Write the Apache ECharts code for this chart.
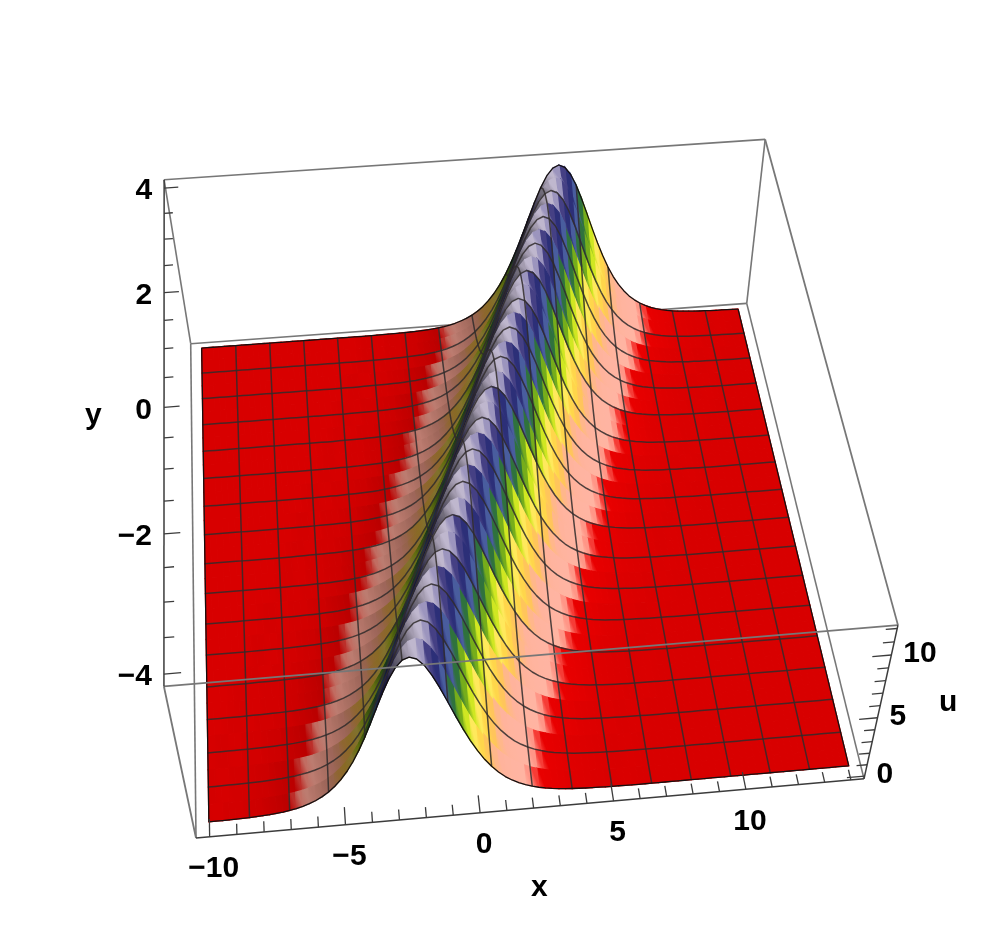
<!DOCTYPE html>
<html>
<head>
<meta charset="utf-8">
<title>soliton surface</title>
<script src="https://cdn.jsdelivr.net/npm/echarts@6/dist/echarts.min.js"></script>
<style>
html, body { margin: 0; padding: 0; background: #fff; }
#chart { width: 997px; height: 935px; filter: blur(0.5px); }
</style>
</head>
<body>
<div id="chart"></div>
<script>
var profileU = [12, 11.81, 11.28, 10.46, 9.44, 8.31, 7.16, 6.05, 5.04, 4.14, 3.36, 2.71, 2.17, 1.72, 1.37, 1.08, 0.85,
    0.67, 0.52, 0.41, 0.32, 0.25, 0.19, 0.15, 0.12, 0.09, 0.07, 0.06, 0.04, 0.03, 0.03, 0.02, 0.01];
// crest position x for each row y = -4, -3.75, ... 4
var ridgeX = [-2.25, -2, -1.75, -1.5, -1.25, -1, -0.75, -0.5, -0.25, 0, 0.25, 0.5, 0.75, 1, 1.25, 1.5,
    1.75, 2, 2.25, 2.5, 2.75, 3, 3.25, 3.5, 3.75, 4, 4.25, 4.5, 4.75, 5, 5.25, 5.5, 5.75];
// the colours in the picture step along the crest in coarse blocks: row each row takes its colour from
var colorRow = [0, 1, 1, 3, 3, 5, 6, 6, 8, 9, 9, 11, 11, 13, 14, 14, 16, 17, 17, 19, 19, 21, 22, 22, 24, 25, 25, 27, 27, 29, 30, 30, 32];

var xTicks = [-10, -5, 0, 5, 10];
var yTicks = [-4, -2, 0, 2, 4];
var uTicks = [0, 5, 10];
var xMinorTicks = [-9, -8, -7, -6, -4, -3, -2, -1, 1, 2, 3, 4, 6, 7, 8, 9, 11, 12, 13, 14];
var yMinorTicks = [-3.5, -3, -2.5, -1.5, -1, -0.5, 0.5, 1, 1.5, 2.5, 3, 3.5];
var uMinorTicks = [1, 2, 3, 4, 6, 7, 8, 9, 11, 12];

// colour by height
var colorU = [0, 0.42, 0.72, 2.0, 3.0, 4.1, 5.0, 5.9, 6.8, 7.5, 8.2, 9.6, 10.8, 11.6, 12];
var colorHex = ['#d80000', '#dc0000', '#ffa898', '#ffa58f', '#ffbd3c', '#f8d858', '#c4d820', '#7aa818',
    '#2e7a20', '#2a5a50', '#465a96', '#25256a', '#4a4480', '#c0b8d0', '#a49cb0'];

// mesh lines: every 2nd row and every 6th column of the grid
var meshRows = [2, 4, 6, 8, 10, 12, 14, 16, 18, 20, 22, 24, 26, 28, 30];
var meshCols = [6, 12, 18, 24, 30, 36, 42, 48, 54, 60, 66, 72, 78, 84, 90];

var X_MIN = -10, X_MAX = 14, Y_MIN = -4, Y_MAX = 4, U_MAX = 12;
var STEP = 0.25;
var COLS = (X_MAX - X_MIN) / STEP, ROWS = (Y_MAX - Y_MIN) / STEP;
var PAD = 0.02;

// camera: box coords (0..1) to page, homogeneous
var camX = [196, 687, 34, -47];
var camY = [838, -42, -423.5, -214];
var camW = [1, 0.022, 0.206, -0.091];

function boxA(x) { return PAD + (1 - 2 * PAD) * (x - X_MIN) / (X_MAX - X_MIN); }
function boxB(y) { return PAD + (1 - 2 * PAD) * (y - Y_MIN) / (Y_MAX - Y_MIN); }
function boxC(u) { return PAD + (1 - 2 * PAD) * u / U_MAX; }

function depth(a, b, c) { return camW[0] + camW[1] * a + camW[2] * b + camW[3] * c; }
function project(a, b, c) {
    var w = depth(a, b, c);
    return [(camX[0] + camX[1] * a + camX[2] * b + camX[3] * c) / w,
            (camY[0] + camY[1] * a + camY[2] * b + camY[3] * c) / w];
}

function colX(c) { return X_MIN + c * STEP; }
function rowY(r) { return Y_MIN + r * STEP; }

function profileAt(c, crest) {
    var k = Math.round(Math.abs(colX(c) - crest) / STEP);
    return k < profileU.length ? profileU[k] : 0;
}
function heightAt(c, r) { return profileAt(c, ridgeX[r]); }

function nodePage(api, c, r) {
    return api.coord(project(boxA(colX(c)), boxB(rowY(r)), boxC(heightAt(c, r))));
}

function hexRgb(h) {
    return [parseInt(h.substr(1, 2), 16), parseInt(h.substr(3, 2), 16), parseInt(h.substr(5, 2), 16)];
}

function nodeColor(c, r) {
    var crest = ridgeX[colorRow[r]];
    var u = profileAt(c, crest);
    var i = 0;
    while (i < colorU.length - 2 && u > colorU[i + 1]) i++;
    var t = Math.min(1, Math.max(0, (u - colorU[i]) / (colorU[i + 1] - colorU[i])));
    var c0 = hexRgb(colorHex[i]), c1 = hexRgb(colorHex[i + 1]);
    // left side of the hill is in shade, right side catches the light
    var slope = (profileAt(c + 1, crest) - profileAt(c - 1, crest)) / (2 * STEP);
    var m = slope > 0 ? 1 - 0.5 * (1 - Math.exp(-slope * 0.9)) : 1 + 0.08 * (1 - Math.exp(slope * 3));
    var out = [];
    for (var k = 0; k < 3; k++) {
        out.push(Math.min(255, Math.round((c0[k] + (c1[k] - c0[k]) * t) * m)));
    }
    return 'rgb(' + out.join(',') + ')';
}

// back to front
var quads = [];
for (var r = 0; r < ROWS; r++) {
    for (var c = 0; c < COLS; c++) {
        var uMid = (heightAt(c, r) + heightAt(c + 1, r) + heightAt(c, r + 1) + heightAt(c + 1, r + 1)) / 4;
        quads.push([c, r, depth(boxA(colX(c + 0.5)), boxB(rowY(r + 0.5)), boxC(uMid))]);
    }
}
quads.sort(function (p, q) { return q[2] - p[2]; });

function renderQuad(params, api) {
    var c = api.value(0), r = api.value(1);
    var p00 = nodePage(api, c, r), p10 = nodePage(api, c + 1, r);
    var p11 = nodePage(api, c + 1, r + 1), p01 = nodePage(api, c, r + 1);
    var col0 = nodeColor(c, r), col1 = nodeColor(c + 1, r);
    // gradient across the quad, with its colour lines leaning so the steps look like teeth
    var ex = p10[0] - p00[0], ey = p10[1] - p00[1];
    var ix = p01[0] - p00[0] - 5, iy = p01[1] - p00[1];
    var nx = -iy, ny = ix;
    var d = nx * ex + ny * ey;
    var gx = nx / d, gy = ny / d;
    var g2 = gx * gx + gy * gy;
    var grad = new echarts.graphic.LinearGradient(p00[0], p00[1], p00[0] + gx / g2, p00[1] + gy / g2,
        [{ offset: 0, color: col0 }, { offset: 1, color: col1 }], true);
    return {
        type: 'polygon',
        shape: { points: [p00, p10, p11, p01] },
        style: { fill: grad, stroke: grad, lineWidth: 1.3 }
    };
}

// mesh and rim polylines: [0, row] runs along x, [1, col] runs along y
var meshLines = [];
meshRows.forEach(function (v) { meshLines.push([0, v]); });
meshCols.forEach(function (v) { meshLines.push([1, v]); });
var rimLines = [[0, 0], [0, ROWS], [1, 0], [1, COLS]];

function surfaceLine(color, width) {
    return function (params, api) {
        var pts = [], i;
        if (api.value(0) === 0) {
            for (i = 0; i <= COLS; i++) pts.push(nodePage(api, i, api.value(1)));
        } else {
            for (i = 0; i <= ROWS; i++) pts.push(nodePage(api, api.value(1), i));
        }
        return {
            type: 'polyline',
            shape: { points: pts },
            style: { stroke: color, lineWidth: width, fill: null, lineJoin: 'round' }
        };
    };
}

// box edges behind the surface, [a0, b0, c0, a1, b1, c1]
var backEdges = [
    [0, 1, 0, 1, 1, 0], [0, 0, 0, 0, 1, 0], [1, 0, 0, 1, 1, 0],
    [0, 1, 0, 0, 1, 1], [1, 1, 0, 1, 1, 1], [0, 1, 1, 1, 1, 1]
];
var frontEdges = [
    [0, 0, 1, 1, 0, 1], [1, 0, 1, 1, 1, 1], [0, 0, 0, 0, 0, 1]
];
var axisEdges = [
    [0, 0, 0, 1, 0, 0], [0, 0, 1, 0, 1, 1], [1, 0, 0, 1, 0, 1]
];
var tickSegs = [];
function addXTick(x, len) { tickSegs.push([boxA(x), 0, 0, boxA(x), len, 0]); }
function addYTick(y, len) { tickSegs.push([0, boxB(y), 1, len, boxB(y), 1]); }
function addUTick(u, len) { tickSegs.push([1, 0, boxC(u), 1 - len, 0, boxC(u)]); }
xTicks.forEach(function (v) { addXTick(v, 0.03); });
xMinorTicks.forEach(function (v) { addXTick(v, 0.018); });
yTicks.forEach(function (v) { addYTick(v, 0.023); });
yMinorTicks.forEach(function (v) { addYTick(v, 0.014); });
uTicks.forEach(function (v) { addUTick(v, 0.027); });
uMinorTicks.forEach(function (v) { addUTick(v, 0.016); });

function segRenderer(color, width) {
    return function (params, api) {
        var a = api.coord(project(api.value(0), api.value(1), api.value(2)));
        var b = api.coord(project(api.value(3), api.value(4), api.value(5)));
        return {
            type: 'line',
            shape: { x1: a[0], y1: a[1], x2: b[0], y2: b[1] },
            style: { stroke: color, lineWidth: width }
        };
    };
}

function customSeries(data, render, z) {
    return {
        type: 'custom', coordinateSystem: 'cartesian2d', silent: true, clip: false, z: z,
        progressive: 0, encode: { x: 0, y: 1 }, data: data, renderItem: render
    };
}

function minusText(v) { return v < 0 ? '\u2212' + (-v) : String(v); }

var LABEL_FONT = 'bold 30px "Liberation Sans", Arial, sans-serif';

function labelSeries(values, toBox, dx, dy, align) {
    return customSeries(values.map(function (v) { return [v]; }), function (params, api) {
        var v = api.value(0);
        var b = toBox(v);
        var p = api.coord(project(b[0], b[1], b[2]));
        return {
            type: 'text',
            style: {
                text: minusText(v), x: p[0] + dx, y: p[1] + dy,
                font: LABEL_FONT, fill: '#000', align: align, verticalAlign: 'middle'
            }
        };
    }, 6);
}

function titleText(text, left, top) {
    return {
        type: 'text', left: left, top: top, silent: true, z: 10,
        style: { text: text, font: LABEL_FONT, fill: '#000' }
    };
}

var myChart = echarts.init(document.getElementById('chart'), null, { renderer: 'canvas' });
myChart.setOption({
    backgroundColor: '#fff',
    animation: false,
    grid: { left: 0, right: 0, top: 0, bottom: 0 },
    xAxis: { type: 'value', min: 0, max: 997, show: false },
    yAxis: { type: 'value', min: 0, max: 935, inverse: true, show: false },
    graphic: [
        titleText('x', 531, 873),
        titleText('y', 85, 401),
        titleText('u', 939, 688)
    ],
    series: [
        customSeries(backEdges, segRenderer('#777', 1.6), 1),
        customSeries(quads, renderQuad, 2),
        customSeries(meshLines, surfaceLine('rgba(48,44,44,0.85)', 1.5), 3),
        customSeries(rimLines, surfaceLine('#141010', 1.3), 3),
        customSeries(frontEdges, segRenderer('#777', 1.8), 4),
        customSeries(axisEdges, segRenderer('#3c3c3c', 1.5), 5),
        customSeries(tickSegs, segRenderer('#3c3c3c', 1.3), 5),
        labelSeries(xTicks, function (v) { return [boxA(v), 0, 0]; }, 4, 32, 'center'),
        labelSeries(yTicks, function (v) { return [0, boxB(v), 1]; }, -12, 3, 'right'),
        labelSeries(uTicks, function (v) { return [1, 0, boxC(v)]; }, 12, -1, 'left')
    ]
});
</script>
</body>
</html>
